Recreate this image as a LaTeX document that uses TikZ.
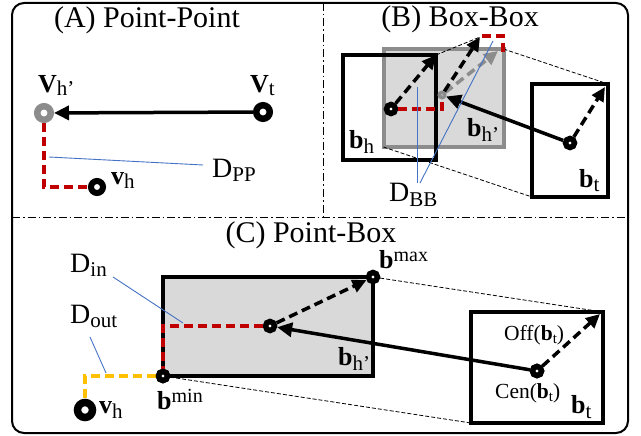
\documentclass[tikz,border=0pt]{standalone}
\usepackage{fontspec}
\setmainfont{Liberation Serif}
\usetikzlibrary{arrows.meta}
\definecolor{dred}{HTML}{C00000}
\definecolor{dorange}{HTML}{FFC000}
\definecolor{dblue}{HTML}{4472C4}
\definecolor{lgray}{HTML}{D9D9D9}
\definecolor{mgray}{HTML}{8C8C8C}
\newcommand\Lsub[2][5pt]{\raisebox{-#1}{\fontsize{21}{21}\selectfont #2}}
\newcommand\Lsup[1]{\raisebox{7pt}{\fontsize{20}{20}\selectfont #1}}
\newcommand\Ssub[1]{\raisebox{-3pt}{\fontsize{15}{15}\selectfont #1}}
\tikzset{
  title/.style={font=\fontsize{30}{32}\selectfont, anchor=base, inner sep=0pt},
  lab/.style={font=\fontsize{26}{28}\selectfont, anchor=base west, inner sep=0pt},
  dlab/.style={font=\fontsize{28}{30}\selectfont, anchor=base west, inner sep=0pt},
  slab/.style={font=\fontsize{21.5}{23}\selectfont, anchor=base west, inner sep=0pt},
  bigpt/.style={circle, draw, fill=white, line width=6.5pt, minimum size=13.5pt, inner sep=0pt},
  smpt/.style={circle, draw, fill=white, line width=5.5pt, minimum size=9pt, inner sep=0pt},
  graypt/.style={circle, draw=mgray, fill=white, line width=3.5pt, minimum size=5pt, inner sep=0pt},
  boxnode/.style={draw, line width=4pt, outer sep=0pt, inner sep=0pt},
  thickarrow/.style={line width=3.5pt, -{Triangle[length=15pt,width=14pt]}},
  dasharrow/.style={line width=3.5pt, dash pattern=on 9pt off 5pt, -{Triangle[length=14pt,width=13pt]}},
  reddash/.style={dred, line width=3.5pt, dash pattern=on 9pt off 5pt},
  thindash/.style={line width=0.8pt, dash pattern=on 4pt off 2pt},
  leader/.style={dblue, line width=0.9pt},
  divider/.style={line width=1pt, dash pattern=on 8pt off 3pt on 1.5pt off 3pt},
}
\begin{document}
\begin{tikzpicture}[x=1pt,y=-1pt]
\useasboundingbox (0,0) rectangle (641,436);
% frame and dividers
\draw[line width=2pt, rounded corners=12pt] (12,3) rectangle (628,433);
\draw[divider] (323,3) -- (323,217);
\draw[divider] (12,217) -- (628,217);

% ---------------- Panel A
\node[title] (tA) at (147,28) {(A) Point-Point};
\node[bigpt, draw=mgray] (vhp) at (44,113) {};
\node[bigpt] (vt) at (263,112) {};
\node[bigpt, minimum size=12pt, line width=6pt] (vhA) at (97,187) {};
\draw[thickarrow] (vt) -- (vhp);
\draw[reddash] (vhp.south) |- (vhA.west);
\node[lab] (lvhp) at (38,93) {\textbf{V}\Lsub[3pt]{h’}};
\node[lab] (lvt) at (250,93) {\textbf{V}\Lsub[3pt]{t}};
\node[lab] (lvhA) at (111,185) {\textbf{v}\Lsub[4pt]{h}};
\node[dlab] (ldpp) at (212,178) {D\Lsub[4pt]{PP}};
\coordinate (lA1) at (49,157);
\coordinate (lA2) at (203,165);
\draw[leader] (lA1) -- (lA2);

% ---------------- Panel B
\node[title] (tB) at (460,27) {(B) Box-Box};
\node[boxnode, draw=mgray, fill=lgray, minimum width=120pt, minimum height=98pt] (gB) at (443.5,98) {};
\draw[thindash] (gB.north east) -- (608,84) coordinate (btBne);
\draw[thindash] (gB.south west) -- (532,197) coordinate (btBsw);
\node[boxnode, line width=4.5pt, minimum width=93pt, minimum height=105pt] (bhB) at (389.5,107.5) {};
\node[boxnode, minimum width=76pt, minimum height=113pt] (btB) at (570,140.5) {};
\coordinate (tipB2) at (480,37);
\coordinate (tipB3) at (498,51);
\coordinate (tipB4) at (605,87);
\coordinate (rb1) at (482,36);
\coordinate (rb2) at (503,53);
\draw[thindash] (bhB.north east) -- (tipB2);
\node[smpt] (cB) at (391,109) {};
\node[graypt] (gcB) at (442,95) {};
\node[smpt] (ctB) at (570,143) {};
\draw[reddash] (cB.east) -| (gcB.south);
\draw[reddash] (rb1) -| (rb2);
\draw[dasharrow] (cB) -- (bhB.north east);
\draw[dasharrow, mgray] (gcB) -- (tipB3);
\draw[dasharrow] (gcB) -- (tipB2);
\draw[thickarrow] (ctB) -- (gcB);
\draw[dasharrow] (ctB) -- (tipB4);
\node[graypt] (gcB2) at (442,95) {};
\node[lab] (lbh) at (349,149) {\textbf{b}\Lsub{h}};
\node[lab] (lbhp) at (467,137) {\textbf{b}\Lsub{h’}};
\node[lab] (lbtB) at (579,187) {\textbf{b}\Lsub{t}};
\node[dlab] (ldbb) at (389,201) {D\Lsub[5pt]{BB}};
\coordinate (lB1) at (417,87);
\coordinate (lB2) at (417,183);
\coordinate (lB3) at (493,41);
\coordinate (lB4) at (420,183);
\draw[leader] (lB1) -- (lB2);
\draw[leader] (lB3) -- (lB4);

% ---------------- Panel C
\node[title] (tC) at (311,242) {(C) Point-Box};
\node[boxnode, fill=lgray, minimum width=210pt, minimum height=99pt] (bhC) at (268,326.5) {};
\node[boxnode, minimum width=132pt, minimum height=111pt] (btC) at (537,367.5) {};
\node[smpt] (cC) at (270,326) {};
\node[smpt] (bmin) at (bhC.south west) {};
\node[smpt] (bmax) at (bhC.north east) {};
\node[smpt] (ctC) at (537,371) {};
\node[bigpt, minimum size=15pt, line width=7.5pt] (vhC) at (85,410) {};
\coordinate (tipC) at (600,314);
\draw[thindash] (bmax) -- (btC.north east);
\draw[thindash] (bmin) -- (btC.south west);
\draw[reddash] (cC.west) -| (bmin.north);
\draw[reddash, dorange] (bmin.west) -| (vhC.north);
\draw[dasharrow] (cC) -- (bmax);
\draw[thickarrow] (ctC) -- (cC);
\draw[dasharrow] (ctC) -- (tipC);
\node[smpt] (bmin2) at (bhC.south west) {};
\node[smpt] (ctC2) at (537,371) {};
\node[lab] (lvhC) at (99,413) {\textbf{v}\Lsub{h}};
\node[lab] (lbmin) at (157,409) {\textbf{b}\Lsup{min}};
\node[lab] (lbmax) at (379,269) {\textbf{b}\Lsup{max}};
\node[lab] (lbhpC) at (338,365) {\textbf{b}\Lsub{h’}};
\node[slab] (loff) at (504,340) {Off(\textbf{b}\Ssub{t})};
\node[slab] (lcen) at (495,398) {Cen(\textbf{b}\Ssub{t})};
\node[lab] (lbtC) at (571,413) {\textbf{b}\Lsub{t}};
\node[dlab] (ldin) at (70,272) {D\Lsub[4pt]{in}};
\node[dlab] (ldout) at (70,323) {D\Lsub[4pt]{out}};
\coordinate (lC1) at (113,277);
\coordinate (lC2) at (183,323);
\coordinate (lC3) at (90,337);
\coordinate (lC4) at (106,373);
\draw[leader] (lC1) -- (lC2);
\draw[leader] (lC3) -- (lC4);
\end{tikzpicture}
\end{document}
